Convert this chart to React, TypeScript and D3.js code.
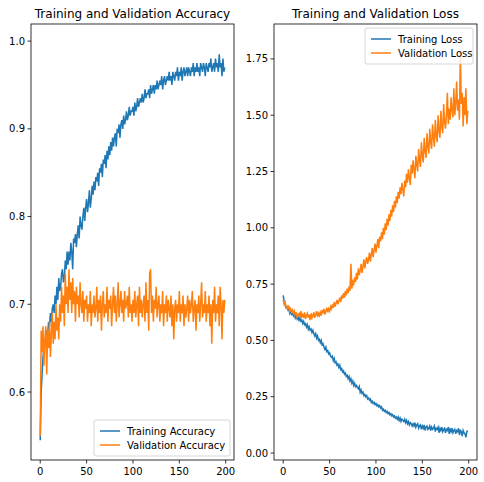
import React from "react";
import * as d3 from "d3";

const trainAcc = [
  .545,.60,.62,.64,.65,.66,.655,.67,.665,.68,
  .675,.69,.68,.695,.70,.69,.71,.70,.72,.705,
  .73,.715,.72,.735,.74,.725,.73,.75,.74,.76,
  .745,.76,.75,.77,.76,.74,.775,.77,.78,.765,
  .78,.79,.775,.80,.79,.785,.80,.81,.795,.81,
  .82,.805,.815,.83,.81,.82,.835,.825,.84,.83,
  .845,.84,.85,.835,.855,.85,.86,.845,.865,.86,
  .87,.855,.875,.865,.88,.87,.885,.875,.89,.88,
  .89,.895,.88,.90,.895,.905,.89,.905,.91,.90,
  .915,.905,.91,.92,.91,.915,.925,.915,.92,.92,
  .925,.915,.93,.92,.925,.935,.925,.93,.935,.93,
  .94,.93,.935,.945,.935,.94,.94,.945,.935,.95,
  .94,.945,.95,.94,.95,.945,.955,.945,.95,.955,
  .95,.96,.945,.955,.96,.95,.955,.96,.955,.965,
  .955,.96,.95,.965,.96,.955,.965,.96,.97,.955,
  .965,.96,.97,.955,.965,.97,.96,.965,.97,.96,
  .97,.965,.96,.97,.965,.975,.96,.97,.965,.975,
  .965,.97,.96,.975,.97,.965,.975,.97,.96,.975,
  .97,.965,.975,.97,.98,.965,.97,.975,.965,.98,
  .97,.975,.965,.985,.97,.975,.96,.98,.965,.97,
];

const valAcc = [
  .55,.67,.645,.675,.63,.66,.675,.62,.67,.65,
  .68,.64,.665,.69,.655,.68,.66,.70,.67,.685,
  .66,.70,.68,.72,.69,.71,.675,.735,.70,.72,
  .69,.74,.705,.725,.69,.73,.70,.715,.68,.72,
  .70,.71,.685,.725,.70,.69,.715,.68,.705,.695,
  .71,.68,.70,.69,.715,.675,.70,.69,.71,.685,
  .695,.72,.68,.705,.69,.71,.67,.70,.715,.685,
  .70,.69,.72,.68,.705,.695,.71,.675,.70,.72,
  .69,.71,.68,.70,.725,.685,.70,.715,.69,.705,
  .68,.715,.695,.70,.71,.685,.72,.69,.70,.68,
  .705,.69,.715,.685,.70,.71,.675,.72,.69,.705,
  .685,.70,.71,.68,.725,.69,.705,.67,.735,.74,
  .69,.71,.68,.705,.695,.72,.685,.70,.71,.68,
  .70,.69,.715,.675,.70,.69,.71,.68,.705,.695,
  .685,.71,.675,.70,.66,.695,.705,.68,.70,.69,
  .715,.68,.70,.69,.71,.675,.70,.685,.695,.71,
  .68,.705,.69,.70,.715,.68,.695,.705,.67,.70,
  .69,.71,.68,.70,.725,.685,.70,.69,.715,.68,
  .70,.69,.71,.675,.70,.655,.705,.69,.72,.68,
  .70,.69,.71,.675,.72,.70,.66,.705,.69,.705,
];

const trainLoss = [
  .70,.67,.66,.645,.65,.635,.64,.62,.63,.615,
  .62,.61,.625,.60,.61,.595,.605,.59,.60,.585,
  .59,.575,.585,.57,.575,.56,.57,.55,.56,.545,
  .55,.535,.545,.53,.52,.53,.51,.52,.50,.505,
  .49,.50,.48,.485,.47,.46,.47,.45,.455,.44,
  .445,.43,.425,.43,.41,.42,.40,.405,.39,.395,
  .38,.39,.37,.375,.36,.365,.35,.355,.34,.345,
  .33,.34,.32,.33,.31,.32,.30,.31,.295,.30,
  .29,.285,.295,.27,.28,.265,.27,.255,.26,.25,
  .255,.24,.245,.235,.24,.225,.23,.22,.225,.215,
  .22,.21,.215,.205,.21,.20,.205,.19,.195,.185,
  .19,.18,.185,.175,.18,.17,.175,.165,.17,.16,
  .165,.155,.16,.15,.16,.145,.155,.14,.15,.145,
  .14,.15,.135,.145,.13,.14,.125,.135,.13,.12,
  .13,.12,.135,.115,.125,.13,.11,.12,.125,.105,
  .12,.11,.125,.10,.115,.12,.105,.11,.12,.10,
  .115,.105,.11,.12,.095,.11,.105,.115,.09,.11,
  .10,.115,.095,.105,.11,.09,.105,.10,.115,.085,
  .105,.095,.11,.09,.10,.105,.085,.10,.095,.11,
  .08,.10,.095,.075,.10,.09,.085,.07,.095,.10,
];

const valLoss = [
  .68,.66,.67,.65,.645,.64,.655,.63,.64,.625,
  .635,.62,.63,.61,.625,.60,.615,.62,.60,.63,
  .605,.615,.60,.625,.595,.61,.62,.60,.615,.59,
  .62,.60,.61,.625,.60,.615,.63,.605,.62,.61,
  .625,.61,.635,.62,.64,.615,.63,.645,.625,.64,
  .63,.65,.64,.66,.645,.67,.65,.665,.68,.66,
  .675,.69,.67,.70,.685,.71,.69,.72,.70,.73,
  .71,.74,.72,.84,.73,.76,.75,.78,.76,.80,
  .77,.82,.79,.81,.84,.80,.83,.86,.82,.85,
  .87,.84,.86,.89,.85,.88,.91,.87,.90,.93,
  .89,.92,.95,.91,.96,.94,.98,.95,1.0,.97,
  1.02,.99,1.04,1.01,1.06,1.03,1.08,1.05,1.10,1.07,
  1.12,1.09,1.14,1.11,1.16,1.13,1.18,1.15,1.20,1.17,
  1.14,1.21,1.18,1.24,1.20,1.26,1.22,1.19,1.28,1.24,
  1.30,1.26,1.22,1.32,1.28,1.25,1.35,1.30,1.27,1.38,
  1.32,1.29,1.40,1.34,1.31,1.42,1.36,1.33,1.44,1.38,
  1.35,1.46,1.40,1.36,1.48,1.41,1.38,1.50,1.43,1.40,
  1.52,1.45,1.42,1.55,1.47,1.44,1.50,1.60,1.46,1.53,
  1.48,1.58,1.52,1.49,1.62,1.50,1.55,1.65,1.52,1.57,
  1.48,1.78,1.55,1.60,1.45,1.58,1.50,1.62,1.46,1.52,
];

const xTicks = [0, 50, 100, 150, 200];
const accTicks = [0.6, 0.7, 0.8, 0.9, 1.0];
const lossTicks = [0, 0.25, 0.5, 0.75, 1.0, 1.25, 1.5, 1.75];

const BLUE = "#1f77b4";
const ORANGE = "#ff7f0e";
const FONT = "DejaVu Sans, sans-serif";

interface PanelProps {
  left: number;
  right: number;
  top: number;
  bottom: number;
  title: string;
  series: { name: string; values: number[]; color: string }[];
  yDomain: [number, number];
  yTicks: number[];
  yFmt: (v: number) => string;
  legend: "lower right" | "upper right";
}

function Panel(p: PanelProps) {
  const x = d3.scaleLinear().domain([-9.95, 208.95]).range([p.left, p.right]);
  const y = d3.scaleLinear().domain(p.yDomain).range([p.bottom, p.top]);
  const line = d3
    .line<number>()
    .x((_, i) => x(i))
    .y((d) => y(d));
  const lw = 136;
  const lh = 36;
  const lx = p.right - lw - 4;
  const ly = p.legend === "upper right" ? p.top + 4 : p.bottom - lh - 4;
  const w = p.legend === "upper right" ? 108 : lw;
  const lx2 = p.right - w - 4;
  return (
    <g fontFamily={FONT}>
      <text x={(p.left + p.right) / 2} y={p.top - 6} textAnchor="middle" fontSize={12}>
        {p.title}
      </text>
      <defs>
        <clipPath id={"c" + p.left}>
          <rect x={p.left} y={p.top} width={p.right - p.left} height={p.bottom - p.top} />
        </clipPath>
      </defs>
      <g clipPath={`url(#c${p.left})`}>
        {p.series.map((s) => (
          <path key={s.name} d={line(s.values) || ""} fill="none" stroke={s.color} strokeWidth={1.5} />
        ))}
      </g>
      <rect x={p.left} y={p.top} width={p.right - p.left} height={p.bottom - p.top} fill="none" stroke="#000" strokeWidth={0.8} />
      {xTicks.map((t) => (
        <g key={t}>
          <line x1={x(t)} x2={x(t)} y1={p.bottom} y2={p.bottom + 3.5} stroke="#000" strokeWidth={0.8} />
          <text x={x(t)} y={p.bottom + 15} textAnchor="middle" fontSize={10}>{t}</text>
        </g>
      ))}
      {p.yTicks.map((t) => (
        <g key={t}>
          <line x1={p.left - 3.5} x2={p.left} y1={y(t)} y2={y(t)} stroke="#000" strokeWidth={0.8} />
          <text x={p.left - 6} y={y(t) + 3.5} textAnchor="end" fontSize={10}>{p.yFmt(t)}</text>
        </g>
      ))}
      <rect x={lx2} y={ly} width={w} height={lh} rx={2} fill="#fff" fillOpacity={0.8} stroke="#ccc" strokeWidth={0.8} />
      {p.series.map((s, i) => (
        <g key={s.name}>
          <line x1={lx2 + 6} x2={lx2 + 26} y1={ly + 11 + i * 14} y2={ly + 11 + i * 14} stroke={s.color} strokeWidth={1.5} />
          <text x={lx2 + 33} y={ly + 14.5 + i * 14} fontSize={10}>{s.name}</text>
        </g>
      ))}
    </g>
  );
}

export default function App() {
  document.body.style.margin = "0";
  return (
    <svg width={484} height={482} style={{ display: "block", background: "#fff" }}>
      <Panel
        left={31}
        right={234}
        top={24}
        bottom={460}
        title="Training and Validation Accuracy"
        series={[
          { name: "Training Accuracy", values: trainAcc, color: BLUE },
          { name: "Validation Accuracy", values: valAcc, color: ORANGE },
        ]}
        yDomain={[0.5225, 1.0195]}
        yTicks={accTicks}
        yFmt={d3.format(".1f")}
        legend="lower right"
      />
      <Panel
        left={274}
        right={477}
        top={24}
        bottom={460}
        title="Training and Validation Loss"
        series={[
          { name: "Training Loss", values: trainLoss, color: BLUE },
          { name: "Validation Loss", values: valLoss, color: ORANGE },
        ]}
        yDomain={[-0.031, 1.905]}
        yTicks={lossTicks}
        yFmt={d3.format(".2f")}
        legend="upper right"
      />
    </svg>
  );
}
